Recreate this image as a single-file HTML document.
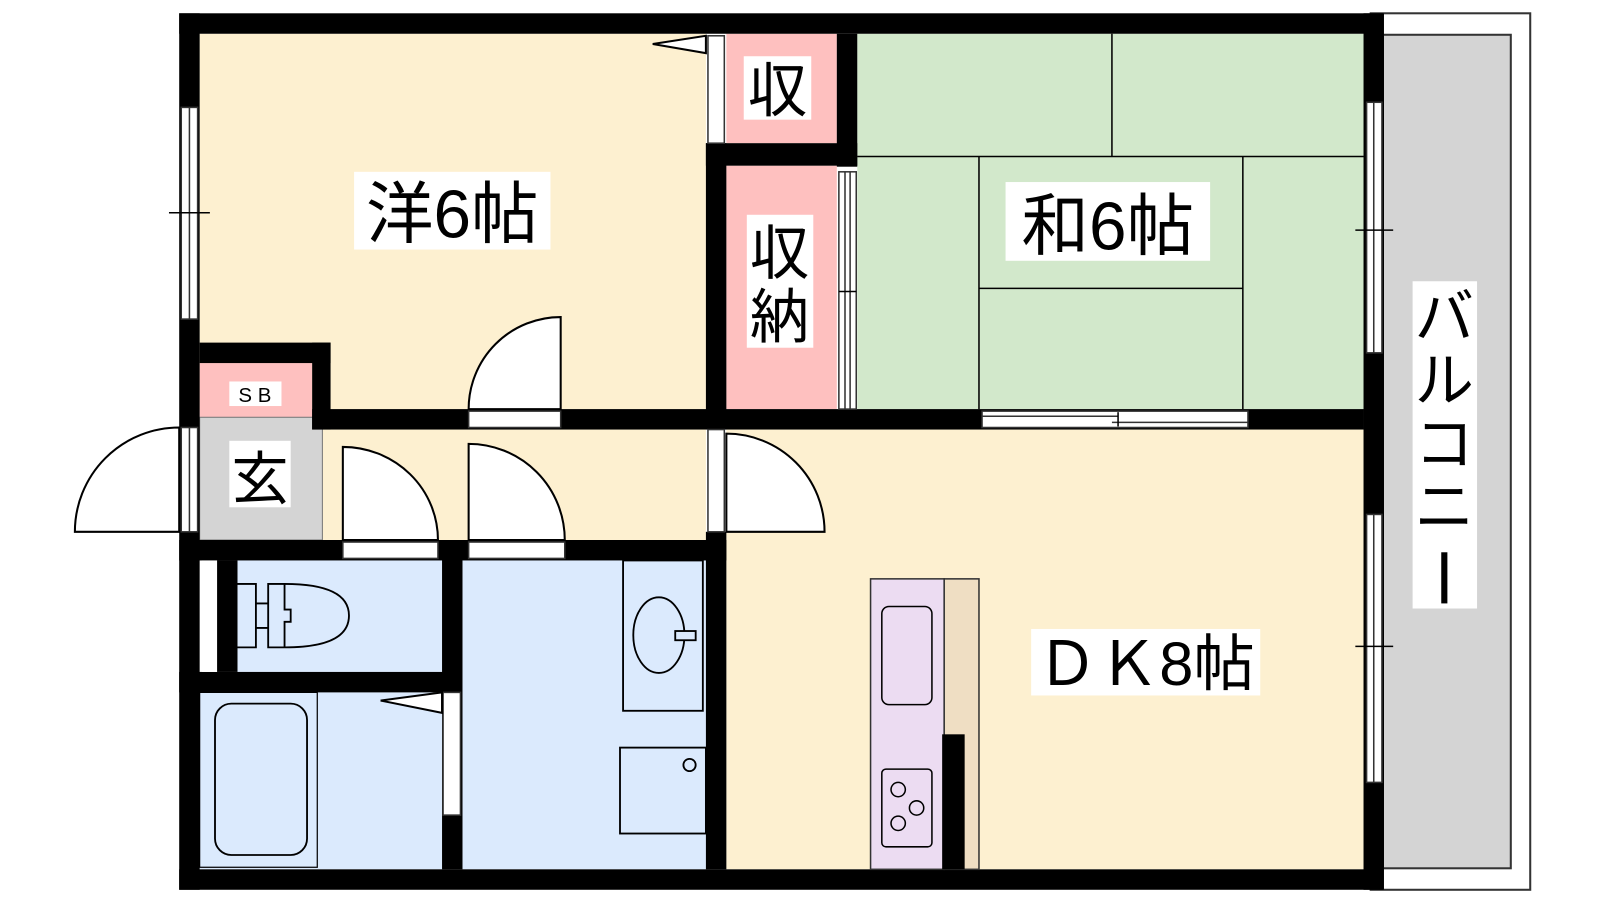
<!DOCTYPE html>
<html><head><meta charset="utf-8"><style>
html,body{margin:0;padding:0;background:#fff;}
svg{display:block;}
text{font-family:"Liberation Sans","Noto Sans CJK JP",sans-serif;fill:#000;}
</style></head><body>
<svg width="1600" height="900" viewBox="0 0 1564 880" xmlns="http://www.w3.org/2000/svg">
<rect width="1564" height="880" fill="#fff"/>
<!-- balcony -->
<rect x="1340" y="13" width="156" height="857" fill="#fff" stroke="#333" stroke-width="2"/>
<rect x="1352" y="34" width="125" height="815" fill="#d4d4d4" stroke="#333" stroke-width="2"/>
<!-- rooms fills -->
<rect x="195" y="33" width="495" height="367" fill="#fdf0d0"/>
<rect x="710" y="33" width="108" height="107" fill="#fec0bf"/>
<rect x="710" y="162" width="108" height="238" fill="#fec0bf"/>
<rect x="838" y="33" width="495" height="367" fill="#d2e8cb"/>
<rect x="710" y="420" width="623" height="430" fill="#fdf0d0"/>
<rect x="315" y="420" width="375" height="108" fill="#fdf0d0"/>
<rect x="195" y="355" width="110" height="53" fill="#fec0bf"/>
<rect x="195" y="408" width="120" height="120" fill="#d4d4d4" stroke="#777" stroke-width="1"/>
<rect x="232" y="548" width="200" height="109" fill="#dbeafd"/>
<rect x="195" y="677" width="237" height="173" fill="#dbeafd"/>
<rect x="452" y="548" width="238" height="302" fill="#dbeafd"/>
<!-- tatami lines -->
<g stroke="#000" stroke-width="1.5" fill="none">
<line x1="1087" y1="33" x2="1087" y2="153"/>
<line x1="838" y1="153" x2="1333" y2="153"/>
<line x1="957" y1="153" x2="957" y2="400"/>
<line x1="1215" y1="153" x2="1215" y2="400"/>
<line x1="957" y1="282" x2="1215" y2="282"/>
</g>
<!-- walls -->
<g fill="#000">
<rect x="175" y="13" width="1177" height="20"/>
<rect x="175" y="850" width="1177" height="20"/>
<rect x="175" y="13" width="20" height="857"/>
<rect x="1333" y="13" width="20" height="857"/>
<rect x="690" y="140" width="20" height="280"/>
<rect x="818" y="33" width="20" height="130"/>
<rect x="690" y="140" width="148" height="22"/>
<rect x="305" y="400" width="1028" height="20"/>
<rect x="195" y="335" width="128" height="20"/>
<rect x="305" y="335" width="18" height="85"/>
<rect x="690" y="520" width="20" height="330"/>
<rect x="175" y="528" width="535" height="20"/>
<rect x="432" y="528" width="20" height="322"/>
<rect x="175" y="657" width="277" height="20"/>
<rect x="212" y="548" width="20" height="109"/>
<rect x="921" y="718" width="22" height="132"/>
</g>
<!-- window / openings (white) -->
<g fill="#fff" stroke="#333" stroke-width="1.5">
<rect x="177" y="105" width="16" height="207"/>
<line x1="185" y1="105" x2="185" y2="312"/>
<rect x="177" y="418" width="16" height="102"/>
<line x1="185" y1="418" x2="185" y2="520"/>
<rect x="197" y="548" width="15" height="109" stroke="none"/>
<rect x="692" y="35" width="16" height="105"/>
<rect x="692" y="420" width="16" height="100"/>
<rect x="820" y="168" width="17" height="232"/>
<line x1="826" y1="168" x2="826" y2="400"/><line x1="831" y1="168" x2="831" y2="400"/>
<rect x="1336" y="100" width="15" height="245"/>
<line x1="1343" y1="100" x2="1343" y2="345"/>
<rect x="1336" y="503" width="15" height="262"/>
<line x1="1343" y1="503" x2="1343" y2="765"/>
<rect x="960" y="402" width="260" height="16"/>
<line x1="960" y1="407" x2="1093" y2="407"/><line x1="1087" y1="413" x2="1220" y2="413"/>
<rect x="458" y="402" width="90" height="16"/>
<rect x="335" y="530" width="93" height="16"/>
<rect x="458" y="530" width="94" height="16"/>
<rect x="433" y="677" width="17" height="120"/>
</g>
<g stroke="#000" stroke-width="1.5">
<line x1="165" y1="208" x2="205" y2="208"/>
<line x1="1325" y1="225" x2="1362" y2="225"/>
<line x1="1325" y1="632" x2="1362" y2="632"/>
<line x1="1093" y1="403" x2="1093" y2="417"/>
<line x1="820" y1="285" x2="837" y2="285"/>
</g>
<!-- doors -->
<g fill="#fff" stroke="#000" stroke-width="2">
<path d="M548 400 L548 310 A90 90 0 0 0 458 400 Z"/>
<path d="M175 520 L175 418 A102 102 0 0 0 73 520 Z"/>
<path d="M710 520 L806 520 A96 96 0 0 0 710 424 Z"/>
<path d="M335 528 L335 437 A93 91 0 0 1 428 528 Z"/>
<path d="M458 528 L458 434 A94 94 0 0 1 552 528 Z"/>
<polygon points="638,43 690,35 690,52"/>
<polygon points="372,685 432,677 432,697"/>
</g>
<!-- fixtures -->
<g fill="none" stroke="#000" stroke-width="1.8">
<rect x="195" y="677" width="115" height="171" stroke-width="1.2"/>
<rect x="210" y="688" width="90" height="148" rx="16"/>
<rect x="609" y="548" width="78" height="147"/>
<ellipse cx="644" cy="621" rx="25" ry="37"/>
<rect x="660" y="617" width="20" height="9" fill="#dbeafd"/>
<rect x="606" y="731" width="84" height="84"/>
<circle cx="674" cy="748" r="6"/>
<path d="M232 571 L250 571 L250 633 L232 633"/>
<path d="M262 571 L278 571 Q341 571 341 602 Q341 633 278 633 L262 633 Z"/>
<path d="M278 571 L278 596 L284 596 L284 608 L278 608 L278 633"/>
<path d="M250 590 L262 590 M250 614 L262 614"/>
</g>
<rect x="851" y="566" width="72" height="284" fill="#ecdcf2" stroke="#333" stroke-width="1.5"/>
<rect x="923" y="566" width="34" height="284" fill="#efdec3" stroke="#333" stroke-width="1.5"/>
<rect x="921" y="718" width="22" height="132" fill="#000"/>
<g fill="none" stroke="#000" stroke-width="1.5">
<rect x="862" y="593" width="49" height="96" rx="7"/>
<rect x="862" y="752" width="49" height="76" rx="4"/>
<circle cx="878" cy="772" r="7"/><circle cx="896" cy="790" r="7"/><circle cx="878" cy="805" r="7"/>
</g>
<!-- labels -->
<g fill="#fff">
<rect x="346" y="168" width="192" height="76"/>
<rect x="727" y="55" width="66" height="62"/>
<rect x="730" y="210" width="65" height="130"/>
<rect x="224" y="373" width="51" height="24"/>
<rect x="224" y="431" width="60" height="65"/>
<rect x="983" y="178" width="200" height="77"/>
<rect x="1008" y="615" width="224" height="65"/>
<rect x="1381" y="275" width="63" height="320"/>
</g>
<text x="442" y="232" font-size="66" text-anchor="middle">洋6帖</text>
<text x="760" y="109" font-size="58" text-anchor="middle">収</text>
<text x="762" y="268" font-size="58" text-anchor="middle">収</text>
<text x="762" y="330" font-size="58" text-anchor="middle">納</text>
<text x="249" y="393" font-size="20" text-anchor="middle">S B</text>
<text x="254" y="488" font-size="56" text-anchor="middle">玄</text>
<text x="1083" y="244" font-size="66" text-anchor="middle">和6帖</text>
<text x="1120" y="670" font-size="60" text-anchor="middle">ＤＫ8帖</text>
<g font-size="58" text-anchor="middle">
<text x="1412" y="330">バ</text>
<text x="1412" y="392">ル</text>
<text x="1412" y="454">コ</text>
<text x="1412" y="516">ニ</text>
</g>
<rect x="1409" y="540" width="6" height="50" fill="#000"/>
</svg>
</body></html>
